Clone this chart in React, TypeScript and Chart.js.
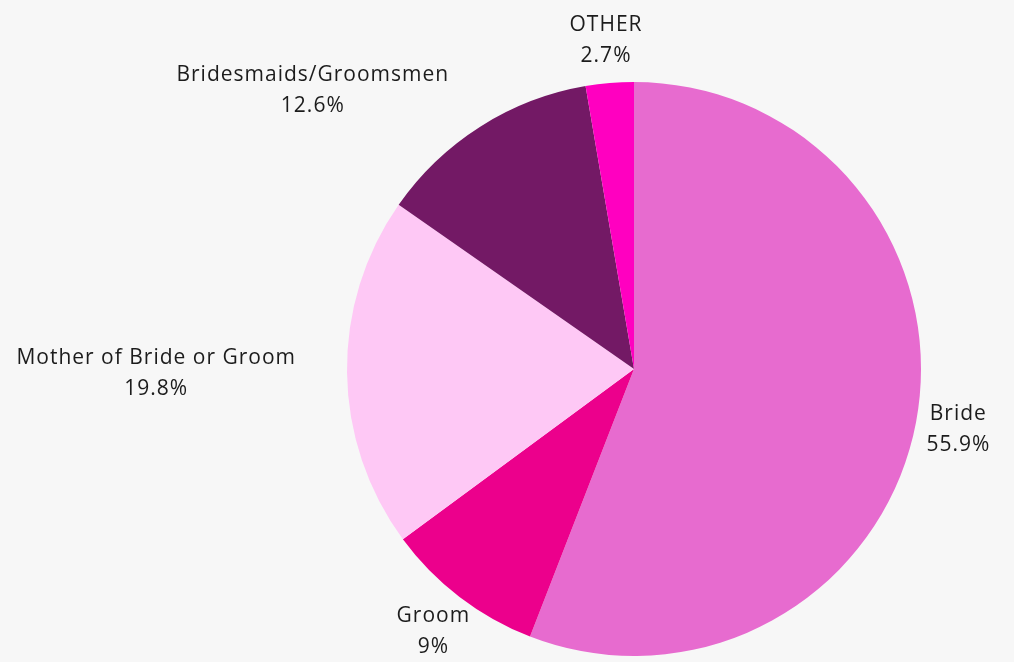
import React, { useEffect, useRef } from "react";
import { Chart, registerables } from "chart.js";

Chart.register(...registerables);

const categories = ["Bride", "Groom", "Mother of Bride or Groom", "Bridesmaids/Groomsmen", "OTHER"];
const values = [55.9, 9, 19.8, 12.6, 2.7];
const colors = ["#e76bcf", "#ec008c", "#fec8f5", "#731965", "#ff00c0"];

const FONT = "21px 'Open Sans', 'Noto Sans', sans-serif";
const LINE_H = 31;

const labelPlugin = {
  id: "outerLabels",
  afterDraw(chart: any) {
    const ctx = chart.ctx as CanvasRenderingContext2D;
    const meta = chart.getDatasetMeta(0);
    ctx.save();
    ctx.font = FONT;
    (ctx as any).letterSpacing = "1px";
    ctx.fillStyle = "#1c1c1c";
    ctx.textBaseline = "middle";
    ctx.textAlign = "center";
    meta.data.forEach((arc: any, i: number) => {
      const { startAngle, endAngle, x, y, outerRadius } = arc.getProps(
        ["startAngle", "endAngle", "x", "y", "outerRadius"],
        true
      );
      const mid = (startAngle + endAngle) / 2;
      const dist = outerRadius + 43;
      const ax = x + Math.cos(mid) * dist;
      const ay = y + Math.sin(mid) * dist;
      const lines = [categories[i], `${values[i]}%`];
      const w = Math.max(...lines.map((l) => ctx.measureText(l).width));
      const h = LINE_H * lines.length - 12;
      const left = ax - w / 2, right = ax + w / 2, top = ay - h / 2, bottom = ay + h / 2;
      const nx = Math.max(left, Math.min(x, right));
      const ny = Math.max(top, Math.min(y, bottom));
      const nd = Math.hypot(nx - x, ny - y);
      let cx = ax;
      if (nd < outerRadius - 6) {
        if (Math.cos(mid) < 0) {
          cx = ax - 8 - w / 2;
        } else {
          cx = ax + 8 + w / 2;
        }
      }
      lines.forEach((l, k) => {
        ctx.fillText(l, cx, ay + (k - (lines.length - 1) / 2) * LINE_H);
      });
    });
    ctx.restore();
  },
};

export default function App() {
  const ref = useRef<HTMLCanvasElement>(null);
  useEffect(() => {
    document.body.style.margin = "0";
    document.body.style.background = "#f7f7f7";
    const chart = new Chart(ref.current!, {
      type: "pie",
      data: {
        labels: categories,
        datasets: [
          {
            data: values,
            backgroundColor: colors,
            borderWidth: 0,
          },
        ],
      },
      options: {
        animation: false,
        responsive: false,
        layout: { padding: { left: 300, right: 46, top: 82, bottom: 6 } },
        plugins: {
          legend: { display: false },
          tooltip: { enabled: false },
        },
      },
      plugins: [labelPlugin],
    });
    return () => chart.destroy();
  }, []);
  return (
    <div style={{ width: 1014, height: 662, background: "#f7f7f7" }}>
      <canvas ref={ref} width={1014} height={662} style={{ display: "block" }} />
    </div>
  );
}
